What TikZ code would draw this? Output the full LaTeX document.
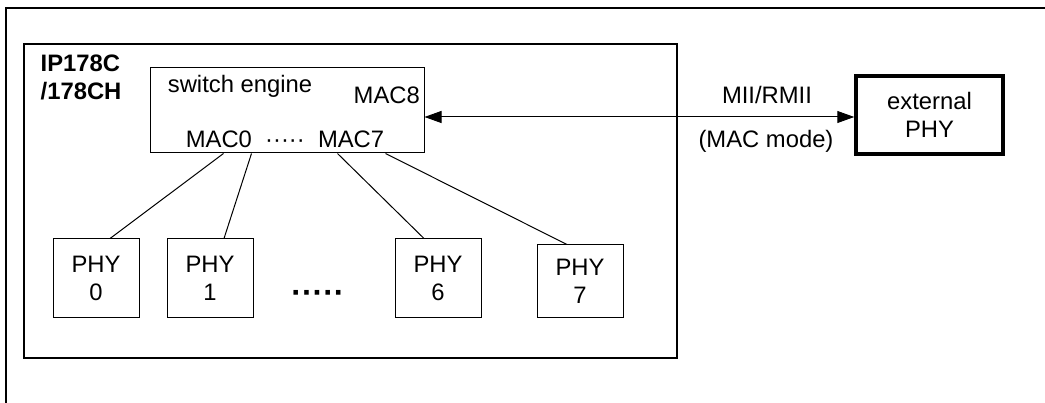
\documentclass[tikz,border=0pt]{standalone}
\usepackage{fontspec}
\setmainfont{Liberation Sans}
\usetikzlibrary{arrows.meta,calc}
\begin{document}
\begin{tikzpicture}[x=1pt,y=-1pt,
  txt/.style={font=\fontsize{23.8pt}{28pt}\selectfont},
  every node/.style={txt, inner sep=0pt},
  box/.style={draw, line width=1pt, rectangle, align=center},
  phy/.style={box, minimum width=86pt, minimum height=79pt},
  link/.style={draw, line width=1pt},
  biarrow/.style={line width=1pt, {Triangle[length=17pt,width=12pt]}-{Triangle[length=17pt,width=12pt]}},
]
\useasboundingbox (0,0) rectangle (1045,403);
% partially visible outer frame
\draw[line width=1.3pt] (6,403) -- (6,8) -- (1045,8);

% chip box
\node[box, line width=1.3pt, minimum width=653pt, minimum height=314pt] (chip) at (350.5,201) {};
\node[anchor=north west, align=left, font=\fontsize{23.8pt}{28pt}\selectfont\bfseries] (chipname) at (40.5,54.5) {IP178C\\/178CH};

% switch engine
\node[box, minimum width=274pt, minimum height=85pt] (sw) at (287,110.5) {};
\node[anchor=base] (swname) at (240,92.5) {switch engine};
\node[anchor=base east] (mac8) at (420,103.5) {MAC8};
\node[anchor=base] (macs) at (285,147.5) {MAC0~~·····~~MAC7};

% PHYs
\node[phy] (p0) at (96,278.5) {PHY\\0};
\node[phy] (p1) at (210,278.5) {PHY\\1};
\node[anchor=base, font=\fontsize{32pt}{36pt}\selectfont\bfseries] (pdots) at (318,304) {·····};
\node[phy] (p6) at (438,278.5) {PHY\\6};
\node[phy, minimum height=73pt] (p7) at (580,281.5) {PHY\\7};

% external PHY
\node[box, line width=3.5pt, minimum width=147pt, minimum height=78pt] (ext) at (929.5,115) {external\\PHY};

% MAC-side connector points
\coordinate (s0) at ($(sw.south west)+(74,0)$);
\coordinate (s1) at ($(sw.south west)+(102,0)$);
\coordinate (s6) at ($(sw.south west)+(188,0)$);
\coordinate (s7) at ($(sw.south west)+(236,0)$);

\draw[link] (s0) -- ([xshift=14pt]p0.north);
\draw[link] (s1) -- ([xshift=14pt]p1.north);
\draw[link] (s6) -- ([xshift=-14pt]p6.north);
\draw[link] (s7) -- ([xshift=-13pt]p7.north);

% MII link
\coordinate (a) at ($(sw.east)+(0,6.5)$);
\draw[biarrow] (a) -- (a -| ext.west);
\node[anchor=base] (mii) at (767,103.5) {MII/RMII};
\node[anchor=base] (mode) at (766,148) {(MAC mode)};
\end{tikzpicture}
\end{document}
